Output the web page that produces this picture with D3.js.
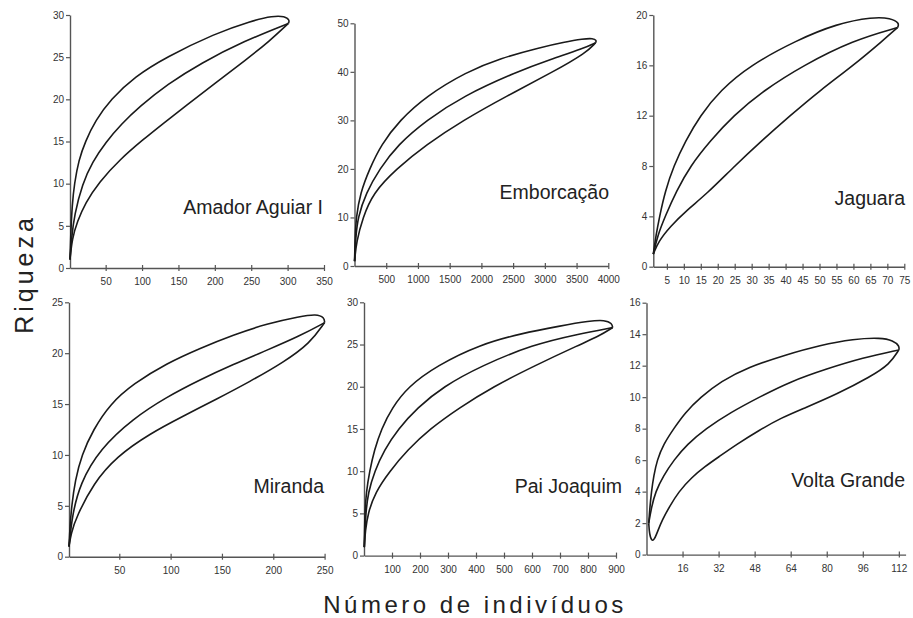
<!DOCTYPE html>
<html>
<head>
<meta charset="utf-8">
<script src="https://cdn.jsdelivr.net/npm/d3@7"></script>
<style>
  body { margin: 0; background: #fff; }
  svg { display: block; }
  .tick text { font-family: "Liberation Sans", Arial, sans-serif; font-size: 10px; fill: #333; }
</style>
</head>
<body>
<svg id="chart" width="913" height="618"></svg>
<script>
// Reservoir names
const sites = ["Amador Aguiar I", "Emborcação", "Jaguara", "Miranda", "Pai Joaquim", "Volta Grande"];

// Tick values per panel
const xTicksAmador = [50, 100, 150, 200, 250, 300, 350];
const yTicksAmador = [0, 5, 10, 15, 20, 25, 30];
const xTicksEmborcacao = [500, 1000, 1500, 2000, 2500, 3000, 3500, 4000];
const yTicksEmborcacao = [0, 10, 20, 30, 40, 50];
const xTicksJaguara = [5, 10, 15, 20, 25, 30, 35, 40, 45, 50, 55, 60, 65, 70, 75];
const yTicksJaguara = [0, 4, 8, 12, 16, 20];
const xTicksMiranda = [50, 100, 150, 200, 250];
const yTicksMiranda = [0, 5, 10, 15, 20, 25];
const xTicksPai = [100, 200, 300, 400, 500, 600, 700, 800, 900];
const yTicksPai = [0, 5, 10, 15, 20, 25, 30];
const xTicksVolta = [16, 32, 48, 64, 80, 96, 112];
const yTicksVolta = [0, 2, 4, 6, 8, 10, 12, 14, 16];

// Rarefaction curves: [individuals, species] for the upper bound, mean and lower bound
const amadorUpper = [[1,1],[2,4],[4,7.5],[7,10],[13,12.8],[22,15],[36,17.5],[57,20],[90,22.7],[133,25],[200,27.8],[250,29.3],[280,29.9],[296,29.85],[303,29.4],[301,29]];
const amadorMean  = [[1,1],[3,3.5],[7,6.3],[18,10],[32,12.6],[50,14.9],[72,17.1],[96,19.1],[135,21.8],[181,24.3],[240,26.9],[301,29]];
const amadorLower = [[1,1],[4,3.5],[11,5.5],[22,7.7],[41,10.2],[70,12.9],[101,15.2],[130,17.2],[161,19.3],[200,21.9],[243,24.7],[275,26.9],[301,29]];

const emborcacaoUpper = [[1,1],[10,6],[26,10],[90,15],[237,20],[421,25],[710,30],[1131,35],[1763,40],[2300,42.8],[2921,45],[3300,46.1],[3605,46.8],[3760,46.9],[3815,46.5],[3800,46]];
const emborcacaoMean  = [[1,1],[20,6],[53,10],[180,15],[395,20],[684,25],[1131,30],[1710,35],[2553,40],[3100,42.6],[3605,44.8],[3800,46]];
const emborcacaoLower = [[1,1],[30,5],[132,10],[290,15],[658,20],[1131,25],[1710,30],[2395,35],[3132,40],[3658,44],[3800,46]];

const jaguaraUpper = [[1,1],[1.8,2.5],[2.85,4],[4.5,6],[7,8],[10.5,10],[14.8,12],[20.7,14],[29.5,16],[43.3,18],[55,19.3],[65.8,19.85],[71,19.75],[73.6,19.35],[73,19]];
const jaguaraMean  = [[1,1],[2.3,2.5],[4.5,4],[7.8,6],[11.9,8],[17.8,10],[24.6,12],[33.5,14],[45.2,16],[60,18],[73,19]];
const jaguaraLower = [[1,1],[2.5,2],[6,3.2],[10.9,4.5],[16.8,5.8],[24.6,7.9],[32.5,9.9],[41.3,12],[50.1,14],[60,16],[68.8,18],[73,19]];

const mirandaUpper = [[1,1],[2,3],[3.6,5],[7,7.5],[13.3,10],[24.7,12.5],[41,15],[63.7,17],[96,19],[129,20.5],[161,21.8],[194,22.9],[226,23.6],[242,23.85],[249.8,23.5],[250,23]];
const mirandaMean  = [[1,1],[4,4],[11.7,7.2],[31.2,10.6],[63.7,13.6],[96.2,15.7],[128.7,17.4],[161,18.9],[194,20.3],[226,21.7],[250,23]];
const mirandaLower = [[1,1],[3,2.3],[8.4,3.95],[24.7,7.2],[47.4,9.85],[79.9,12.1],[112,13.8],[145,15.5],[177,17.2],[210,19.1],[236,21],[250,23]];

const paiUpper = [[1,1],[3,5],[8,7.5],[20,10],[37,12.5],[62,15],[100,17.5],[157,20],[260,22.5],[414,25],[560,26.3],[700,27.2],[807,27.8],[860,27.9],[886,27.5],[888,27]];
const paiMean  = [[1,1],[6,5],[15,7.5],[38,10],[72,12.5],[122,15],[190,17.5],[282,20],[420,22.5],[604,25],[760,26.2],[888,27]];
const paiLower = [[1,1],[5,3],[14,5],[40,7.5],[92,10],[155,12.5],[235,15],[340,17.5],[461,20],[610,22.5],[771,25],[840,26],[888,27]];

const voltaUpper = [[1,2],[1.5,3],[2.2,4],[3.2,5],[4.7,6],[7.5,7],[12.1,8],[17,9],[24,10],[33,11],[45,11.9],[62,12.7],[77,13.3],[92,13.7],[104,13.78],[109.5,13.6],[112.3,13.25],[112,13]];
const voltaMean  = [[1,2],[2.2,3],[4,4],[7.5,5],[12.1,6],[18,7],[26.3,8],[37,9],[50,10],[64,11],[80,11.8],[96,12.5],[112,13]];
const voltaLower = [[1,2],[1.3,1.3],[2.3,0.85],[3.5,0.95],[5,1.5],[7,2.2],[10,3],[14.3,4],[20,4.9],[26,5.6],[32,6.2],[40,7],[50,7.9],[60,8.7],[70,9.3],[84.6,10.2],[99.4,11.3],[108,12.1],[112,13]];

// Panel layout: pixel frame of each plot and its axis domains
const panels = [
  { name: sites[0], xDom: [1, 350],  yDom: [0, 30], xTicks: xTicksAmador,     yTicks: yTicksAmador,     curves: [amadorUpper, amadorMean, amadorLower],
    left: 70, right: 324, top: 15, bottom: 268, label: [323, 214] },
  { name: sites[1], xDom: [0, 4000], yDom: [0, 50], xTicks: xTicksEmborcacao, yTicks: yTicksEmborcacao, curves: [emborcacaoUpper, emborcacaoMean, emborcacaoLower],
    left: 354.5, right: 608.3, top: 23.3, bottom: 266, label: [609, 199] },
  { name: sites[2], xDom: [1, 75],   yDom: [0, 20], xTicks: xTicksJaguara,    yTicks: yTicksJaguara,    curves: [jaguaraUpper, jaguaraMean, jaguaraLower],
    left: 653.3, right: 904.3, top: 15, bottom: 266.7, label: [905, 205] },
  { name: sites[3], xDom: [1, 250],  yDom: [0, 25], xTicks: xTicksMiranda,    yTicks: yTicksMiranda,    curves: [mirandaUpper, mirandaMean, mirandaLower],
    left: 69, right: 324.6, top: 302.3, bottom: 556.7, label: [324, 493] },
  { name: sites[4], xDom: [0, 900],  yDom: [0, 30], xTicks: xTicksPai,        yTicks: yTicksPai,        curves: [paiUpper, paiMean, paiLower],
    left: 364, right: 616, top: 302.3, bottom: 555.6, label: [622, 493] },
  { name: sites[5], xDom: [0, 115],  yDom: [0, 16], xTicks: xTicksVolta,      yTicks: yTicksVolta,      curves: [voltaUpper, voltaMean, voltaLower],
    left: 646.5, right: 905.6, top: 302.7, bottom: 554.6, label: [905, 487] }
];

const svg = d3.select("#chart");
svg.append("rect").attr("width", 913).attr("height", 618).attr("fill", "#fff");

panels.forEach(p => {
  const x = d3.scaleLinear().domain(p.xDom).range([p.left, p.right]);
  const y = d3.scaleLinear().domain(p.yDom).range([p.bottom, p.top]);
  const g = svg.append("g");

  // y axis
  const ya = g.append("g")
    .attr("transform", `translate(${p.left},0)`)
    .call(d3.axisLeft(y).tickValues(p.yTicks).tickSize(4).tickSizeOuter(0).tickPadding(2).tickFormat(d3.format("d")));
  // x axis, ticks crossing the line
  const xa = g.append("g")
    .attr("transform", `translate(0,${p.bottom})`)
    .call(d3.axisBottom(x).tickValues(p.xTicks).tickSize(3).tickSizeOuter(0).tickPadding(7).tickFormat(d3.format("d")));
  xa.selectAll(".tick line").attr("y1", -3).attr("y2", 3);

  [ya, xa].forEach(a => {
    a.select(".domain").attr("stroke", "#555").attr("stroke-width", 1.4);
    a.selectAll(".tick line").attr("stroke", "#555").attr("stroke-width", 1.2);
    a.attr("font-family", null).attr("font-size", null);
  });

  // upper bound, mean and lower bound curves
  const line = d3.line()
    .x(d => x(d[0]))
    .y(d => y(d[1]))
    .curve(d3.curveBasis);
  p.curves.forEach(c => {
    g.append("path").datum(c)
      .attr("d", line)
      .attr("fill", "none")
      .attr("stroke", "#1a1a1a")
      .attr("stroke-width", 1.6)
      .attr("stroke-linejoin", "round");
  });

  // site name
  g.append("text")
    .attr("x", p.label[0]).attr("y", p.label[1])
    .attr("text-anchor", "end")
    .attr("font-family", "Liberation Sans, Arial, sans-serif")
    .attr("font-size", 19.5)
    .attr("fill", "#222")
    .text(p.name);
});

// axis titles
svg.append("text")
  .attr("transform", "translate(33,274) rotate(-90)")
  .attr("text-anchor", "middle")
  .attr("font-family", "Liberation Sans, Arial, sans-serif")
  .attr("font-size", 25)
  .attr("letter-spacing", 4)
  .attr("fill", "#222")
  .text("Riqueza");

svg.append("text")
  .attr("x", 475).attr("y", 613)
  .attr("text-anchor", "middle")
  .attr("font-family", "Liberation Sans, Arial, sans-serif")
  .attr("font-size", 24)
  .attr("letter-spacing", 3.5)
  .attr("fill", "#222")
  .text("Número de indivíduos");
</script>
</body>
</html>
